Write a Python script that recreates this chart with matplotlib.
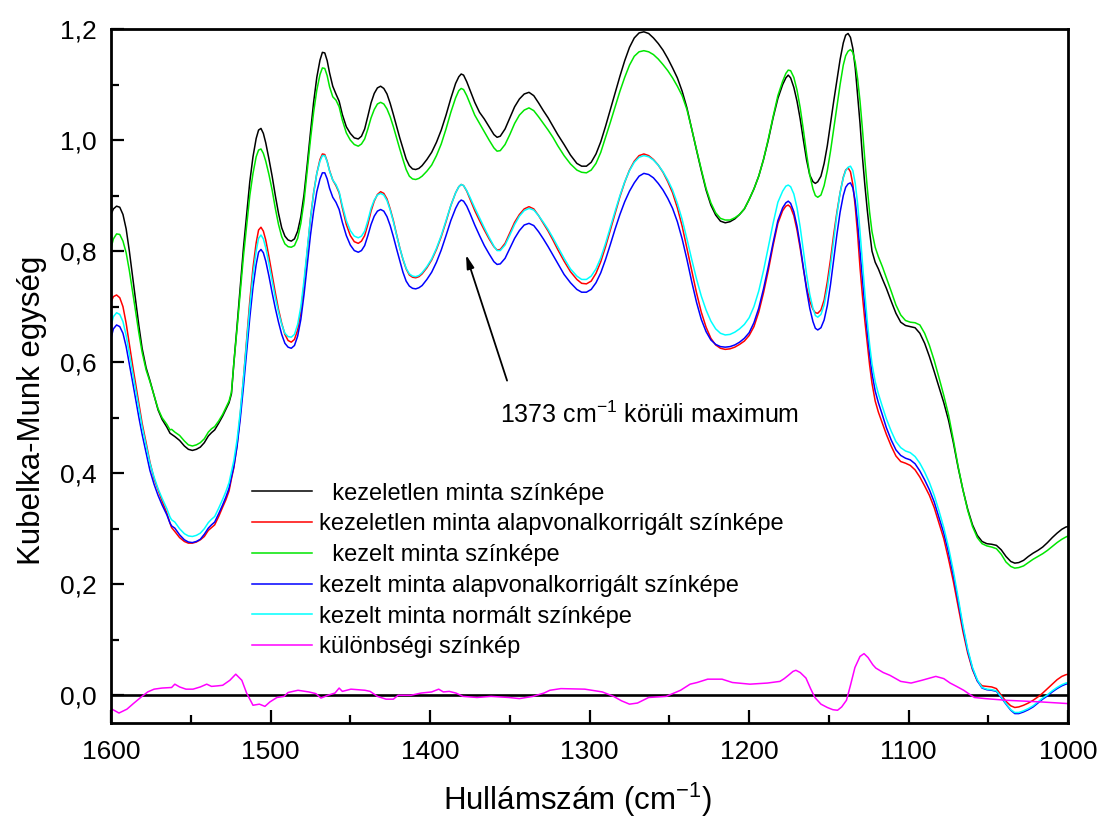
import matplotlib
matplotlib.use("Agg")
import matplotlib.pyplot as plt
from matplotlib.ticker import MultipleLocator

plt.rcParams['font.family'] = ['Liberation Sans', 'DejaVu Sans']
plt.rcParams['mathtext.fontset'] = 'custom'
plt.rcParams['mathtext.rm'] = 'Liberation Sans'
plt.rcParams['mathtext.default'] = 'regular'

# wavenumber grid (cm-1) shared by the five spectra
wn = [1600, 1598.5, 1596.5, 1594.5, 1592.5, 1590.5, 1588.5, 1586.5, 1584.5, 1582.5, 1580.5, 1578, 1575.6, 1573,
      1570.5, 1568, 1565, 1563, 1562, 1560, 1557, 1554, 1551.5, 1549, 1546.5, 1544, 1541.5, 1539, 1537, 1535,
      1532.5, 1530, 1528, 1526, 1524.5, 1523, 1521, 1519, 1517, 1515, 1513, 1511, 1509, 1507.5, 1506, 1504.5,
      1503, 1501, 1499, 1497, 1495, 1493, 1491, 1489, 1487, 1485, 1483, 1481, 1479, 1477, 1475, 1473, 1471,
      1469, 1467.5, 1466, 1464.5, 1463, 1461, 1459, 1457, 1455, 1452.5, 1450, 1447.5, 1445, 1443, 1441, 1439,
      1437, 1435, 1433, 1431, 1429, 1427, 1425, 1423, 1421, 1419, 1417, 1415, 1413, 1411, 1409, 1407, 1405,
      1402, 1399, 1396, 1393, 1390, 1387, 1384, 1382, 1380.5, 1379, 1377, 1375, 1372, 1369, 1366, 1363, 1360,
      1358, 1356, 1353, 1350, 1347, 1344, 1341, 1338, 1335, 1332, 1329, 1326, 1323, 1320, 1316, 1312, 1308,
      1305, 1302, 1299, 1296, 1293, 1290, 1287, 1284, 1281, 1278, 1275, 1272, 1269, 1266, 1263, 1260, 1257,
      1254, 1251, 1248, 1245, 1242, 1239, 1236, 1233, 1230, 1227, 1224, 1221, 1218, 1215, 1212, 1209, 1206,
      1203, 1200, 1197, 1194, 1191, 1188, 1185, 1182, 1179, 1177, 1175.5, 1174, 1172, 1170, 1168, 1166, 1164,
      1162, 1160, 1158.5, 1157, 1155, 1153, 1151, 1149, 1147, 1145, 1143, 1141, 1139.5, 1138, 1136.5, 1135,
      1133.5, 1132, 1130.5, 1129, 1127.5, 1126, 1124.5, 1123, 1121, 1119, 1116.5, 1114, 1111, 1108, 1105,
      1102, 1099, 1096, 1093, 1090, 1087, 1084, 1081, 1078, 1075, 1072, 1069, 1066, 1063, 1060, 1057, 1054,
      1051, 1048, 1045, 1042, 1039, 1036, 1033.5, 1031, 1028, 1025, 1022, 1019, 1016, 1013, 1010, 1007, 1004,
      1001.5, 1000]

# kezeletlen minta színképe
km_raw_untreated = [
    0.866, 0.876, 0.881, 0.879, 0.866, 0.840, 0.800, 0.755, 0.710, 0.665, 0.625, 0.590, 0.567, 0.540,
    0.514, 0.497, 0.483, 0.472, 0.470, 0.466, 0.459, 0.449, 0.443, 0.441, 0.443, 0.447, 0.455, 0.467, 0.473, 0.478,
    0.490, 0.503, 0.515, 0.527, 0.543, 0.598, 0.665, 0.735, 0.805, 0.865, 0.925, 0.970, 1.003, 1.018, 1.021, 1.012,
    0.995, 0.966, 0.935, 0.900, 0.868, 0.842, 0.827, 0.820, 0.818, 0.822, 0.836, 0.862, 0.902, 0.956, 1.013, 1.068, 1.113,
    1.144, 1.158, 1.157, 1.143, 1.121, 1.097, 1.083, 1.070, 1.046, 1.024, 1.012, 1.004, 1.002, 1.007, 1.020, 1.043,
    1.067, 1.084, 1.094, 1.097, 1.093, 1.083, 1.066, 1.046, 1.025, 1.004, 0.985, 0.966, 0.954, 0.948, 0.947, 0.949, 0.954,
    0.965, 0.978, 0.996, 1.018, 1.045, 1.075, 1.102, 1.114, 1.119, 1.117, 1.105, 1.090, 1.068, 1.050, 1.038, 1.024, 1.010,
    1.005, 1.007, 1.020, 1.040, 1.060, 1.074, 1.083, 1.086, 1.080, 1.067, 1.053, 1.040, 1.025, 1.010, 0.992, 0.973, 0.958,
    0.953, 0.953, 0.960, 0.975, 0.997, 1.025, 1.055, 1.085, 1.115, 1.143, 1.167, 1.184, 1.193, 1.195, 1.192, 1.184, 1.174,
    1.162, 1.147, 1.130, 1.112, 1.088, 1.058, 1.020, 0.982, 0.945, 0.910, 0.883, 0.865, 0.854, 0.851, 0.853, 0.858, 0.866,
    0.876, 0.893, 0.912, 0.935, 0.965, 1.000, 1.040, 1.075, 1.100, 1.112, 1.117, 1.112, 1.095, 1.070, 1.038, 1.000, 0.964,
    0.937, 0.925, 0.922, 0.925, 0.935, 0.958, 0.990, 1.030, 1.070, 1.108, 1.145, 1.175, 1.189, 1.192, 1.185, 1.165,
    1.130, 1.080, 1.030, 0.970, 0.920, 0.875, 0.835, 0.800, 0.780, 0.768, 0.750, 0.733, 0.710, 0.688, 0.672,
    0.666, 0.664, 0.662, 0.652, 0.634, 0.610, 0.583, 0.555, 0.527, 0.495, 0.455, 0.410, 0.370, 0.335, 0.307, 0.288, 0.277,
    0.273, 0.272, 0.270, 0.262, 0.250, 0.241, 0.238, 0.239, 0.243, 0.250, 0.256, 0.261, 0.267, 0.275, 0.284, 0.292, 0.299,
    0.303, 0.304]

# kezelt minta színképe
km_raw_treated = [
    0.805, 0.822, 0.831, 0.830, 0.818, 0.797, 0.765, 0.728, 0.690, 0.652, 0.618, 0.586, 0.565, 0.540,
    0.516, 0.500, 0.488, 0.478, 0.479, 0.474, 0.468, 0.458, 0.451, 0.449, 0.451, 0.455, 0.462, 0.474, 0.480, 0.484,
    0.494, 0.506, 0.518, 0.530, 0.546, 0.598, 0.660, 0.725, 0.790, 0.845, 0.900, 0.940, 0.970, 0.982, 0.984, 0.976,
    0.962, 0.938, 0.910, 0.877, 0.848, 0.826, 0.813, 0.808, 0.807, 0.810, 0.823, 0.850, 0.890, 0.945, 1.000, 1.050, 1.090,
    1.118, 1.130, 1.129, 1.116, 1.096, 1.078, 1.072, 1.060, 1.036, 1.013, 1.000, 0.992, 0.989, 0.993, 1.002, 1.020,
    1.040, 1.055, 1.065, 1.068, 1.065, 1.056, 1.042, 1.024, 1.004, 0.984, 0.965, 0.947, 0.935, 0.930, 0.929, 0.931, 0.935,
    0.944, 0.955, 0.972, 0.993, 1.020, 1.050, 1.076, 1.089, 1.093, 1.091, 1.080, 1.066, 1.045, 1.030, 1.015, 1.000, 0.986,
    0.980, 0.981, 0.992, 1.010, 1.030, 1.045, 1.054, 1.058, 1.053, 1.042, 1.030, 1.018, 1.005, 0.990, 0.972, 0.957, 0.946,
    0.942, 0.941, 0.946, 0.958, 0.978, 1.005, 1.032, 1.060, 1.088, 1.113, 1.135, 1.151, 1.159, 1.161, 1.159, 1.154, 1.146,
    1.136, 1.125, 1.112, 1.097, 1.080, 1.055, 1.020, 0.983, 0.947, 0.913, 0.887, 0.869, 0.859, 0.856, 0.856, 0.860, 0.866,
    0.876, 0.893, 0.912, 0.935, 0.965, 1.002, 1.042, 1.080, 1.106, 1.120, 1.126, 1.125, 1.113, 1.090, 1.058, 1.018, 0.975,
    0.937, 0.912, 0.900, 0.897, 0.901, 0.918, 0.945, 0.980, 1.020, 1.060, 1.100, 1.135, 1.152, 1.160, 1.163, 1.158,
    1.140, 1.110, 1.070, 1.020, 0.965, 0.915, 0.870, 0.835, 0.807, 0.790, 0.772, 0.752, 0.728, 0.703, 0.685,
    0.675, 0.672, 0.671, 0.667, 0.652, 0.630, 0.603, 0.572, 0.540, 0.505, 0.460, 0.412, 0.370, 0.333, 0.304, 0.284, 0.273,
    0.269, 0.267, 0.264, 0.254, 0.240, 0.232, 0.229, 0.230, 0.233, 0.239, 0.245, 0.250, 0.255, 0.261, 0.268, 0.275, 0.281,
    0.285, 0.287]

# kezeletlen minta alapvonalkorrigált színképe
km_base_untreated = [
    0.708, 0.718, 0.721, 0.716, 0.700, 0.670, 0.632, 0.595, 0.560, 0.525, 0.490, 0.455, 0.420, 0.390,
    0.370, 0.350, 0.328, 0.310, 0.302, 0.295, 0.284, 0.277, 0.274, 0.274, 0.276, 0.280, 0.286, 0.297, 0.302, 0.307,
    0.322, 0.339, 0.352, 0.368, 0.390, 0.410, 0.450, 0.505, 0.570, 0.640, 0.710, 0.770, 0.815, 0.838, 0.843, 0.836,
    0.820, 0.790, 0.757, 0.725, 0.695, 0.670, 0.650, 0.639, 0.636, 0.641, 0.658, 0.690, 0.740, 0.800, 0.858, 0.905, 0.940,
    0.965, 0.975, 0.974, 0.962, 0.945, 0.928, 0.918, 0.905, 0.878, 0.848, 0.828, 0.817, 0.814, 0.818, 0.828, 0.848,
    0.872, 0.890, 0.902, 0.907, 0.904, 0.894, 0.876, 0.855, 0.830, 0.806, 0.785, 0.768, 0.757, 0.753, 0.752, 0.754, 0.759,
    0.770, 0.784, 0.803, 0.826, 0.853, 0.882, 0.905, 0.916, 0.920, 0.918, 0.908, 0.894, 0.873, 0.855, 0.838, 0.822, 0.808,
    0.802, 0.803, 0.814, 0.833, 0.852, 0.866, 0.876, 0.880, 0.876, 0.864, 0.850, 0.836, 0.820, 0.803, 0.782, 0.763, 0.749,
    0.742, 0.741, 0.746, 0.760, 0.781, 0.808, 0.838, 0.868, 0.898, 0.924, 0.946, 0.962, 0.972, 0.975, 0.972, 0.965, 0.955,
    0.942, 0.925, 0.905, 0.878, 0.845, 0.805, 0.765, 0.725, 0.690, 0.663, 0.643, 0.631, 0.625, 0.623, 0.624, 0.627, 0.632,
    0.638, 0.648, 0.664, 0.690, 0.725, 0.765, 0.810, 0.850, 0.873, 0.881, 0.883, 0.879, 0.864, 0.838, 0.805, 0.768, 0.735,
    0.710, 0.695, 0.689, 0.688, 0.694, 0.712, 0.745, 0.785, 0.830, 0.870, 0.905, 0.933, 0.946, 0.950, 0.943, 0.920,
    0.880, 0.830, 0.770, 0.720, 0.675, 0.635, 0.595, 0.562, 0.530, 0.510, 0.490, 0.470, 0.449, 0.431, 0.421,
    0.418, 0.414, 0.406, 0.393, 0.377, 0.360, 0.338, 0.310, 0.282, 0.245, 0.205, 0.160, 0.115, 0.076, 0.046, 0.026, 0.017,
    0.016, 0.015, 0.012, 0.000, -0.011, -0.019, -0.022, -0.021, -0.018, -0.014, -0.009, -0.003, 0.004, 0.012, 0.020, 0.028,
    0.034, 0.037, 0.038]

# kezelt minta alapvonalkorrigált színképe
km_base_treated = [
    0.643, 0.660, 0.667, 0.664, 0.652, 0.628, 0.597, 0.565, 0.532, 0.500, 0.470, 0.437, 0.405, 0.380,
    0.360, 0.343, 0.325, 0.310, 0.305, 0.301, 0.289, 0.280, 0.276, 0.275, 0.277, 0.281, 0.290, 0.301, 0.307, 0.312,
    0.327, 0.343, 0.357, 0.373, 0.393, 0.412, 0.448, 0.497, 0.555, 0.617, 0.680, 0.735, 0.776, 0.798, 0.803, 0.797,
    0.782, 0.755, 0.725, 0.697, 0.672, 0.650, 0.634, 0.627, 0.625, 0.630, 0.647, 0.677, 0.722, 0.775, 0.828, 0.872, 0.907,
    0.930, 0.941, 0.941, 0.930, 0.913, 0.897, 0.888, 0.875, 0.852, 0.828, 0.811, 0.801, 0.798, 0.801, 0.810, 0.828,
    0.848, 0.863, 0.872, 0.875, 0.872, 0.862, 0.846, 0.826, 0.804, 0.783, 0.762, 0.746, 0.737, 0.733, 0.732, 0.734, 0.738,
    0.749, 0.762, 0.780, 0.802, 0.828, 0.855, 0.877, 0.888, 0.892, 0.890, 0.881, 0.868, 0.847, 0.828, 0.810, 0.795, 0.781,
    0.776, 0.777, 0.787, 0.805, 0.823, 0.837, 0.847, 0.850, 0.846, 0.835, 0.822, 0.808, 0.793, 0.778, 0.758, 0.743, 0.731,
    0.726, 0.726, 0.731, 0.743, 0.761, 0.785, 0.812, 0.840, 0.866, 0.889, 0.908, 0.923, 0.935, 0.940, 0.938, 0.932, 0.922,
    0.910, 0.895, 0.877, 0.853, 0.822, 0.785, 0.745, 0.708, 0.677, 0.655, 0.640, 0.632, 0.628, 0.627, 0.628, 0.631, 0.636,
    0.643, 0.653, 0.671, 0.697, 0.732, 0.772, 0.815, 0.855, 0.878, 0.887, 0.890, 0.886, 0.871, 0.845, 0.810, 0.770, 0.730,
    0.697, 0.673, 0.661, 0.658, 0.662, 0.676, 0.702, 0.740, 0.785, 0.830, 0.870, 0.900, 0.915, 0.921, 0.923, 0.914,
    0.890, 0.850, 0.800, 0.750, 0.700, 0.655, 0.615, 0.580, 0.548, 0.527, 0.505, 0.482, 0.460, 0.442, 0.432,
    0.427, 0.424, 0.417, 0.404, 0.388, 0.370, 0.348, 0.320, 0.292, 0.257, 0.216, 0.170, 0.122, 0.080, 0.048, 0.026, 0.013,
    0.010, 0.009, 0.007, -0.004, -0.016, -0.027, -0.033, -0.033, -0.030, -0.026, -0.021, -0.014, -0.007, -0.001, 0.006,
    0.012, 0.017, 0.020, 0.021]

# kezelt minta normált színképe
km_norm_treated = [
    0.665, 0.682, 0.689, 0.686, 0.673, 0.648, 0.615, 0.582, 0.548, 0.515, 0.484, 0.450, 0.418, 0.393,
    0.372, 0.355, 0.336, 0.321, 0.316, 0.312, 0.300, 0.291, 0.287, 0.286, 0.288, 0.292, 0.300, 0.311, 0.317, 0.322,
    0.337, 0.353, 0.367, 0.383, 0.403, 0.423, 0.460, 0.510, 0.570, 0.635, 0.700, 0.758, 0.800, 0.823, 0.829, 0.822,
    0.806, 0.777, 0.746, 0.716, 0.690, 0.668, 0.652, 0.646, 0.645, 0.650, 0.668, 0.700, 0.748, 0.803, 0.858, 0.904, 0.940,
    0.962, 0.972, 0.972, 0.961, 0.944, 0.928, 0.920, 0.907, 0.882, 0.855, 0.837, 0.827, 0.824, 0.827, 0.836, 0.855,
    0.877, 0.892, 0.901, 0.904, 0.901, 0.891, 0.874, 0.853, 0.829, 0.806, 0.786, 0.769, 0.759, 0.755, 0.754, 0.756, 0.761,
    0.772, 0.786, 0.805, 0.828, 0.855, 0.882, 0.905, 0.916, 0.920, 0.918, 0.909, 0.897, 0.878, 0.860, 0.842, 0.825, 0.809,
    0.801, 0.801, 0.811, 0.829, 0.848, 0.863, 0.873, 0.877, 0.874, 0.864, 0.852, 0.839, 0.824, 0.808, 0.787, 0.768, 0.755,
    0.749, 0.749, 0.755, 0.768, 0.788, 0.814, 0.843, 0.872, 0.900, 0.925, 0.945, 0.960, 0.969, 0.972, 0.970, 0.964, 0.955,
    0.943, 0.928, 0.910, 0.886, 0.857, 0.822, 0.785, 0.750, 0.719, 0.694, 0.674, 0.660, 0.652, 0.649, 0.650, 0.654, 0.660,
    0.668, 0.680, 0.700, 0.728, 0.765, 0.807, 0.850, 0.888, 0.908, 0.917, 0.919, 0.916, 0.903, 0.878, 0.843, 0.800, 0.758,
    0.722, 0.697, 0.684, 0.681, 0.686, 0.703, 0.733, 0.773, 0.820, 0.866, 0.905, 0.932, 0.945, 0.951, 0.953, 0.945,
    0.922, 0.885, 0.835, 0.780, 0.725, 0.675, 0.632, 0.597, 0.565, 0.543, 0.520, 0.498, 0.476, 0.457, 0.446,
    0.440, 0.437, 0.430, 0.418, 0.402, 0.383, 0.360, 0.332, 0.302, 0.266, 0.224, 0.176, 0.126, 0.083, 0.050, 0.028, 0.014,
    0.011, 0.010, 0.008, -0.003, -0.015, -0.026, -0.031, -0.031, -0.028, -0.024, -0.019, -0.012, -0.005, 0.001, 0.008,
    0.014, 0.019, 0.022, 0.023]

# különbségi színkép
wn_diff = [1600, 1595, 1590, 1586, 1581, 1577, 1573, 1568, 1562, 1560, 1557, 1553, 1548.6, 1544, 1540, 1537, 1533,
           1530, 1525.5, 1521.8, 1518, 1515, 1511, 1507, 1503.5, 1500.4, 1496, 1491.5, 1489, 1482.8, 1476,
           1471.6, 1468.4, 1464, 1459.6, 1457, 1455, 1449.6, 1440.8, 1437.6, 1433, 1427.6, 1423, 1420, 1412,
           1405.6, 1399, 1394.6, 1391.7, 1388, 1383.8, 1379.4, 1370.6, 1361.8, 1350.6, 1344, 1335.5, 1328.6,
           1324.9, 1318, 1303, 1292, 1285, 1280, 1275, 1270, 1263, 1252, 1243, 1237, 1232.6, 1226, 1217, 1210.5,
           1199.5, 1188.6, 1180.7, 1178, 1175.4, 1172.5, 1170.7, 1168, 1164.4, 1161.5, 1158.8, 1155, 1151, 1147.5,
           1144.6, 1142, 1139, 1136.5, 1133.7, 1130.5, 1128, 1125.5, 1122.5, 1120.6, 1116, 1111.8, 1105, 1098.5,
           1091.7, 1083, 1078, 1074, 1070, 1065.5, 1062, 1058.8, 1052, 1039, 1017, 1000]
km_diff = [-0.024, -0.032, -0.025, -0.015, -0.003, 0.006, 0.011, 0.013, 0.014, 0.020, 0.015, 0.011, 0.011,
           0.015, 0.020, 0.016, 0.017, 0.018, 0.027, 0.038, 0.027, 0.004, -0.018, -0.016, -0.020, -0.012,
           -0.004, -0.002, 0.005, 0.009, 0.006, 0.003, -0.005, 0.000, 0.004, 0.013, 0.007, 0.011, 0.009, 0.007,
           -0.002, -0.007, -0.007, 0.000, 0.000, 0.004, 0.006, 0.011, 0.006, 0.007, 0.004, -0.002, -0.004,
           -0.002, -0.004, -0.006, -0.002, 0.004, 0.009, 0.012, 0.011, 0.006, -0.002, -0.010, -0.016, -0.014,
           -0.004, -0.002, 0.009, 0.020, 0.023, 0.029, 0.029, 0.023, 0.020, 0.022, 0.025, 0.030, 0.036, 0.043,
           0.045, 0.041, 0.031, 0.012, -0.004, -0.016, -0.022, -0.026, -0.027, -0.021, -0.009, 0.018, 0.050,
           0.070, 0.075, 0.068, 0.055, 0.049, 0.041, 0.036, 0.025, 0.022, 0.027, 0.034, 0.030, 0.022, 0.016,
           0.009, 0.002, -0.004, -0.006, -0.009, -0.012, -0.015]

series = [
    (wn, km_raw_untreated, 'black', '  kezeletlen minta színképe'),
    (wn, km_base_untreated, '#ff0000', 'kezeletlen minta alapvonalkorrigált színképe'),
    (wn, km_raw_treated, '#00e600', '  kezelt minta színképe'),
    (wn, km_base_treated, '#0000ff', 'kezelt minta alapvonalkorrigált színképe'),
    (wn, km_norm_treated, '#00ffff', 'kezelt minta normált színképe'),
    (wn_diff, km_diff, '#ff00ff', 'különbségi színkép'),
]

x_ticks = [1600, 1500, 1400, 1300, 1200, 1100, 1000]
y_ticks = [0.0, 0.2, 0.4, 0.6, 0.8, 1.0, 1.2]
y_tick_labels = ['0,0', '0,2', '0,4', '0,6', '0,8', '1,0', '1,2']

fig = plt.figure(figsize=(10.99, 8.25), dpi=100)
ax = fig.add_axes([0.101, 0.1236, 0.871, 0.8412])

ax.axhline(0, color='black', lw=1.9, zorder=1)
for x, y, col, lab in series:
    ax.plot(x, y, color=col, lw=1.1, label=lab, zorder=2)

ax.set_xlim(1600, 1000)
ax.set_ylim(-0.05, 1.2)
ax.set_xticks(x_ticks)
ax.xaxis.set_minor_locator(MultipleLocator(50))
ax.set_yticks(y_ticks)
ax.set_yticklabels(y_tick_labels)
ax.yaxis.set_minor_locator(MultipleLocator(0.1))
ax.tick_params(which='both', direction='in', width=1.6, labelsize=19, top=False, right=False)
ax.tick_params(which='major', length=9.5)
ax.tick_params(which='minor', length=5.5)
ax.tick_params(axis='x', pad=12)
ax.tick_params(axis='y', pad=10)
for sp in ax.spines.values():
    sp.set_linewidth(2.0)

ax.set_xlabel('Hullámszám (cm$^{-1}$)', fontsize=22.5)
ax.set_ylabel('Kubelka-Munk egység', fontsize=22.5)
ax.xaxis.set_label_coords(0.487, -0.083)
ax.yaxis.set_label_coords(-0.067, 0.45)

ax.annotate('', xy=(1378, 0.798), xytext=(1351.2, 0.562),
            arrowprops=dict(arrowstyle='-|>,head_length=0.8,head_width=0.22', color='black', lw=1.3))
ax.text(1356.2, 0.505, '1373 cm$^{-1}$ körüli maximum', fontsize=18, va='center', ha='left')

ax.legend(loc='upper left', bbox_to_anchor=(0.1473, 0.3465), frameon=False, fontsize=17,
          handlelength=2.55, handletextpad=0.3, labelspacing=0.37, borderpad=0, borderaxespad=0)

fig.savefig('out.png', dpi=100)
